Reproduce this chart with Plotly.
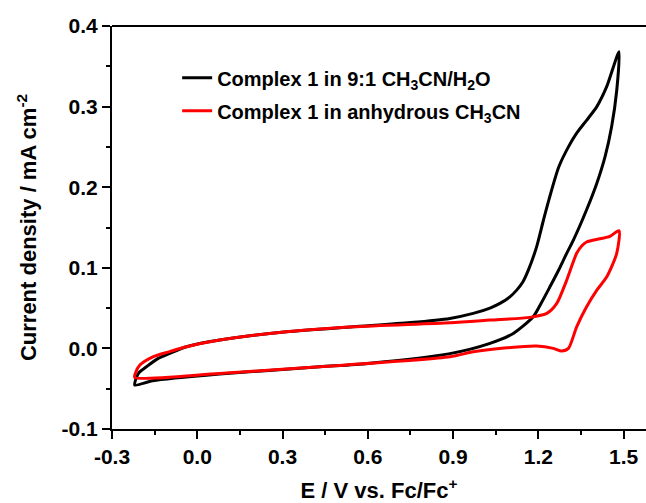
import plotly.graph_objects as go

# Complex 1 in 9:1 CH3CN/H2O (black)
e_water = [-0.220, -0.216, -0.205, -0.179, -0.140, -0.097, -0.038, 0.079, 0.314, 0.549,
           0.750, 0.889, 0.971, 1.030, 1.065, 1.100, 1.124, 1.145, 1.165, 1.194,
           1.218, 1.237, 1.272, 1.306, 1.335, 1.370, 1.406, 1.441, 1.484,
           1.476, 1.458, 1.435, 1.406, 1.370, 1.323, 1.300, 1.270, 1.241, 1.210,
           1.182, 1.112, 1.030, 0.889, 0.600, 0.431, 0.079, -0.157, -0.220]
j_water = [-0.0455, -0.038, -0.030, -0.0228, -0.013, -0.0062, 0.002, 0.0103, 0.0206, 0.0268,
           0.032, 0.0372, 0.0434, 0.050, 0.0558, 0.064, 0.0723, 0.082, 0.0971, 0.126,
           0.159, 0.184, 0.225, 0.250, 0.267, 0.283, 0.300, 0.325, 0.368,
           0.320, 0.275, 0.238, 0.205, 0.172, 0.134, 0.118, 0.096, 0.0764, 0.056,
           0.0392, 0.0186, 0.0062, -0.0065, -0.0186, -0.0228, -0.0319, -0.0402, -0.0455]

# Complex 1 in anhydrous CH3CN (red)
e_dry = [-0.220, -0.218, -0.202, -0.156, -0.097, -0.038, 0.079, 0.314, 0.549, 0.889,
         1.030, 1.171, 1.230, 1.265, 1.300, 1.335, 1.355, 1.370, 1.417, 1.452, 1.484,
         1.476, 1.441, 1.406, 1.370, 1.335, 1.306, 1.282, 1.253, 1.194, 1.089,
         0.971, 0.889, 0.431, 0.079, -0.220]
j_dry = [-0.036, -0.031, -0.0207, -0.0104, -0.004, 0.002, 0.0103, 0.0206, 0.0268, 0.0318,
         0.0351, 0.0385, 0.0434, 0.0558, 0.0847, 0.118, 0.128, 0.132, 0.136, 0.139, 0.146,
         0.118, 0.0888, 0.0723, 0.0516, 0.0268, 0.0, -0.0033, 0.0, 0.0029, 0.0007,
         -0.0042, -0.0104, -0.0228, -0.031, -0.036]

names = ["Complex 1 in 9:1 CH<sub>3</sub>CN/H<sub>2</sub>O",
         "Complex 1 in anhydrous CH<sub>3</sub>CN"]
colors = ["#000000", "#ff0000"]

x_ticks = [-0.3, 0.0, 0.3, 0.6, 0.9, 1.2, 1.5]
x_labels = ["-0.3", "0.0", "0.3", "0.6", "0.9", "1.2", "1.5"]
y_ticks = [-0.1, 0.0, 0.1, 0.2, 0.3, 0.4]
y_labels = ["-0.1", "0.0", "0.1", "0.2", "0.3", "0.4"]

FONT = "Liberation Sans, Arial, sans-serif"

fig = go.Figure()
for xs, ys, nm, c, g in [(e_water, j_water, names[0], colors[0], "a"),
                         (e_dry, j_dry, names[1], colors[1], "b")]:
    fig.add_trace(go.Scatter(x=xs, y=ys, mode="lines", name=nm, legendgroup=g,
                             line=dict(color=c, width=3, shape="spline", smoothing=0.7)))

axis_common = dict(showline=True, linecolor="black", linewidth=2, ticks="outside",
                   ticklen=8, tickwidth=2, tickcolor="black", showgrid=False,
                   zeroline=False, automargin=False,
                   tickfont=dict(family=FONT, size=21, color="black", weight="bold"))

fig.update_layout(
    width=646, height=503,
    margin=dict(l=112, r=0, t=26, b=74),
    paper_bgcolor="white", plot_bgcolor="white",
    xaxis=dict(range=[-0.3, 1.579], tickvals=x_ticks, ticktext=x_labels,
               minor=dict(dtick=0.15, tick0=-0.3, ticks="outside", ticklen=4,
                          tickwidth=2, tickcolor="black"),
               title=dict(text="E / V vs. Fc/Fc<sup>+</sup>", standoff=18,
                          font=dict(family=FONT, size=22, color="black", weight="bold")),
               **axis_common),
    yaxis=dict(range=[-0.1, 0.4], tickvals=y_ticks, ticktext=y_labels,
               minor=dict(dtick=0.05, tick0=-0.1, ticks="outside", ticklen=4,
                          tickwidth=2, tickcolor="black"),
               title=dict(text="Current density / mA cm<sup>-2</sup>", standoff=19,
                          font=dict(family=FONT, size=22, color="black", weight="bold")),
               **axis_common),
    legend=dict(x=0.122, y=0.92, xanchor="left", yanchor="top",
                bgcolor="rgba(0,0,0,0)", traceorder="grouped", tracegroupgap=4,
                font=dict(family=FONT, size=20, color="black", weight="bold")),
    shapes=[dict(type="line", xref="paper", yref="paper", x0=0, x1=1, y0=1, y1=1,
                 line=dict(color="black", width=2))],
)

fig.write_html("out.html", config={"displayModeBar": False},
               post_script="document.body.style.margin='0';document.body.style.overflow='hidden';")
